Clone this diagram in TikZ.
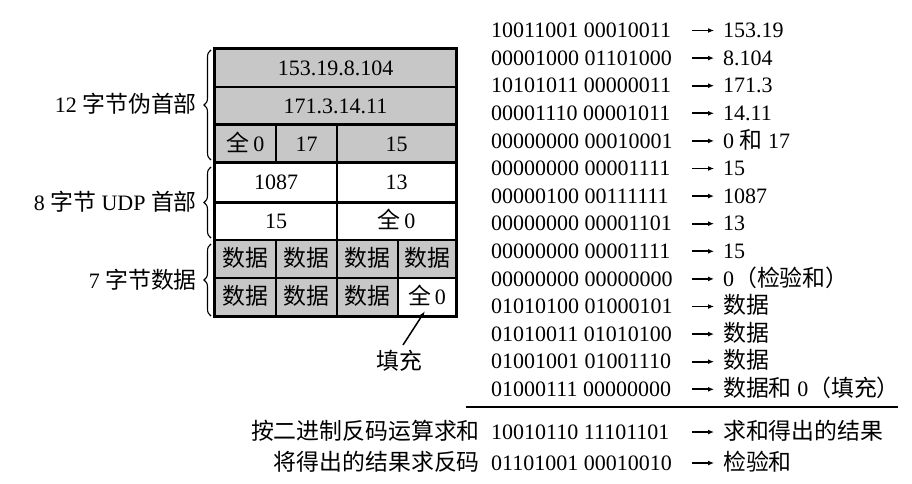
\documentclass[tikz,border=0pt]{standalone}
\usepackage{fontspec}
\setmainfont{Liberation Serif}
\newfontfamily\cjk[Scale=1.04]{Noto Sans CJK SC}
\usetikzlibrary{decorations.pathreplacing,arrows.meta}
\definecolor{cellgray}{gray}{0.78}
\begin{document}
\begin{tikzpicture}[x=1pt,y=-1pt,
  font=\fontsize{22}{26}\selectfont,
  txt/.style={inner sep=0pt,text height=14.5pt,text depth=0pt},
  cell/.style={draw,line width=1.4pt,inner sep=0pt,text height=14.5pt,text depth=0pt,fill=white},
  cellg/.style={cell,fill=cellgray},
  brc/.style={decorate,decoration={brace,amplitude=7pt,mirror},line width=1.1pt},
  arr/.style={-{Latex[length=6pt,width=5pt]},line width=1.7pt}]
\useasboundingbox (0,0) rectangle (912,484);
% ---- table ----
\node[cellg,minimum width=241pt,minimum height=38pt] (c1) at (335.5,68) {153.19.8.104};
\node[cellg,minimum width=241pt,minimum height=38pt] (c2) at (335.5,106) {171.3.14.11};
\node[cellg,minimum width=61pt,minimum height=38pt] (c31) at (245.5,144) {{\cjk 全}\,0};
\node[cellg,minimum width=61pt,minimum height=38pt] (c32) at (306.5,144) {17};
\node[cellg,minimum width=119pt,minimum height=38pt] (c33) at (396.5,144) {15};
\node[cell,minimum width=122pt,minimum height=39pt] (c41) at (276,182.5) {1087};
\node[cell,minimum width=119pt,minimum height=39pt] (c42) at (396.5,182.5) {13};
\node[cell,minimum width=122pt,minimum height=38pt] (c51) at (276,221) {15};
\node[cell,minimum width=119pt,minimum height=38pt] (c52) at (396.5,221) {{\cjk 全}\,0};
\foreach \n/\x/\w in {1/245.5/61,2/306.5/61,3/367.5/61,4/427/58}{
  \node[cellg,minimum width=\w pt,minimum height=38pt] (c6\n) at (\x,259) {\cjk 数据};
}
\foreach \n/\x/\w in {1/245.5/61,2/306.5/61,3/367.5/61}{
  \node[cellg,minimum width=\w pt,minimum height=38pt] (c7\n) at (\x,297) {\cjk 数据};
}
\node[cell,minimum width=58pt,minimum height=38pt] (c74) at (427,297) {{\cjk 全}\,0};
% group separators and outer frame
\draw[line width=2.2pt] (c31.north west) -- (c33.north east);
\draw[line width=2.2pt] (c41.south west) -- (c42.south east);
\draw[line width=2.2pt] (c41.north west) -- (c42.north east);
\draw[line width=2.6pt] (c1.north west) rectangle (c74.south east);
% ---- braces and labels ----
\draw[brc] (211,50) -- (211,160);
\draw[brc] (211,167) -- (211,238);
\draw[brc] (211,244) -- (211,316);
\node[txt,anchor=east] (l1) at (197,105) {12 {\cjk 字节伪首部}};
\node[txt,anchor=east] (l2) at (197,203) {8 {\cjk 字节} UDP {\cjk 首部}};
\node[txt,anchor=east] (l3) at (197,281) {7 {\cjk 字节数据}};
% ---- fill pointer ----
\node[txt] (fill) at (399,362) {\cjk 填充};
\coordinate (fs) at (403,345);
\coordinate (ft) at (425,311);
\draw[-{Latex[length=6pt,width=4pt]},line width=1.5pt] (fs) -- (ft);
% ---- right column ----
\foreach \i/\b/\r in {
 0/10011001 00010011/153.19,
 1/00001000 01101000/8.104,
 2/10101011 00000011/171.3,
 3/00001110 00001011/14.11,
 4/00000000 00010001/{0 {\cjk 和} 17},
 5/00000000 00001111/15,
 6/00000100 00111111/1087,
 7/00000000 00001101/13,
 8/00000000 00001111/15,
 9/00000000 00000000/{0{\cjk （检验和）}},
 10/01010100 01000101/{\cjk 数据},
 11/01010011 01010100/{\cjk 数据},
 12/01001001 01001110/{\cjk 数据},
 13/01000111 00000000/{{\cjk 数据和} 0{\cjk （填充）}}}{
  \node[txt,anchor=west] (b\i) at (491,30.5+27.6*\i) {\b};
  \node[txt,anchor=west] (r\i) at (723,30.5+27.6*\i) {\r};
  \draw[arr] ([xshift=-31pt]r\i.west) -- ([xshift=-9pt]r\i.west);
}
\coordinate (hl) at (466,407);
\coordinate (hr) at (898,407);
\draw[line width=1.6pt] (hl) -- (hr);
\node[txt,anchor=west] (bs) at (491,432) {10010110 11101101};
\node[txt,anchor=west] (rs) at (723,432) {\cjk 求和得出的结果};
\draw[arr] ([xshift=-31pt]rs.west) -- ([xshift=-9pt]rs.west);
\node[txt,anchor=east] (ls) at (480,432) {\cjk 按二进制反码运算求和};
\node[txt,anchor=west] (bf) at (491,463) {01101001 00010010};
\node[txt,anchor=west] (rf) at (723,463) {\cjk 检验和};
\draw[arr] ([xshift=-31pt]rf.west) -- ([xshift=-9pt]rf.west);
\node[txt,anchor=east] (lf) at (480,463) {\cjk 将得出的结果求反码};
\end{tikzpicture}
\end{document}
